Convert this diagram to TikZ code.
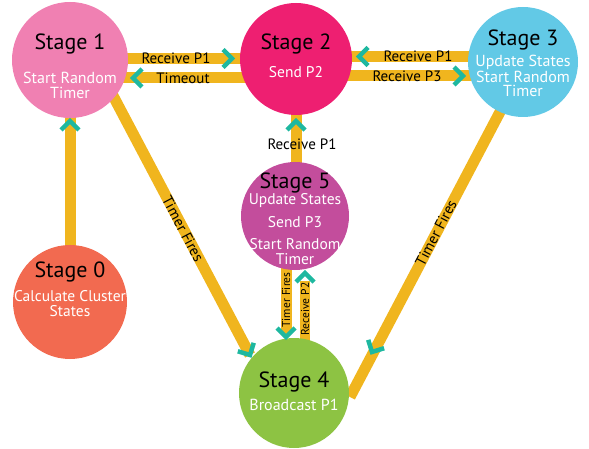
\documentclass[tikz,border=0pt]{standalone}
\usepackage{fontspec}
\setmainfont{PT Sans}
\usetikzlibrary{calc,backgrounds}
\definecolor{cSa}{HTML}{F080B2}
\definecolor{cSb}{HTML}{EE1F71}
\definecolor{cSc}{HTML}{62C9E6}
\definecolor{cSe}{HTML}{C34D9C}
\definecolor{cSo}{HTML}{F26A50}
\definecolor{cSd}{HTML}{8DC343}
\definecolor{barY}{HTML}{F0B51E}
\definecolor{chevT}{HTML}{1EB8A0}
\begin{document}
\begin{tikzpicture}[x=1pt,y=-1pt,
  stagecirc/.style={circle, inner sep=0pt, draw=none},
  bar/.style={draw=barY, line width=11pt},
  chev/.pic={\draw[draw=chevT, line width=4.5pt, miter limit=10] (-9,-9) -- (0,0) -- (-9,9);},
  title/.style={font=\fontsize{22}{22}\selectfont, text=black, inner sep=0pt},
  sub/.style={font=\fontsize{15.5}{15}\selectfont, text=white, align=center, inner sep=0pt},
  lab/.style={font=\fontsize{15}{15}\selectfont, text=black, inner sep=0pt},
  smalllab/.style={font=\fontsize{11.5}{11.5}\selectfont, text=black, inner sep=0pt}]
\useasboundingbox (0,0) rectangle (589,449);

% circles
\node[stagecirc, fill=cSa, minimum size=116pt] (s1) at (70,60) {};
\node[stagecirc, fill=cSb, minimum size=112pt] (s2) at (296,59) {};
\node[stagecirc, fill=cSc, minimum size=110pt] (s3) at (523,62) {};
\node[stagecirc, fill=cSe, minimum size=108pt] (s5) at (295,216) {};
\node[stagecirc, fill=cSo, minimum size=114pt] (s0) at (70,302) {};
\node[stagecirc, fill=cSd, minimum size=110pt] (s4) at (294,393) {};

% chevron tips
\coordinate (t12) at (232,58.5);
\coordinate (t21) at (133,78);
\coordinate (t32) at (359,56.5);
\coordinate (t23) at (463,76);
\coordinate (t52) at (296,121);
\coordinate (t01) at (70,121);
\coordinate (t14) at (250,355);
\coordinate (t34) at (372,352);
\coordinate (t54) at (286,337);
\coordinate (t45) at (305,273);

% bars
\begin{scope}[on background layer]
\draw[bar] ([yshift=1.5pt]s1.center) -- ([yshift=1.5pt]s1.center -| s2.center);
\draw[bar] ([yshift=-18pt]s1.center) -- ([yshift=-18pt]s1.center -| s2.center);
\draw[bar] ([yshift=2.5pt]s2.center) -- ([yshift=2.5pt]s2.center -| s3.center);
\draw[bar] ([yshift=-17pt]s2.center) -- ([yshift=-17pt]s2.center -| s3.center);
\draw[bar] ([xshift=1pt]s5.center) -- ([xshift=1pt]s5.center |- s2.center);
\draw[bar] (s0.center) -- (s1.center);
\draw[bar] ($(s1.center)+(40,30)$) -- (t14);
\draw[bar] ($(s3.center)+(-22,48)$) -- ($(s4.center)+(56,4)$);
\draw[bar] (s5.center -| t54) -- ([yshift=3pt]t54);
\draw[bar, line width=10pt] (s4.center -| t45) -- ([yshift=-8pt]t45);
\end{scope}

% chevrons
\pic at (t12) {chev};
\pic[rotate=180] at (t21) {chev};
\pic[rotate=180] at (t32) {chev};
\pic at (t23) {chev};
\pic[rotate=90] at (t52) {chev};
\pic[rotate=90] at (t01) {chev};
\pic[rotate=-62.1] at (t14) {chev};
\pic[rotate=-117.6] at (t34) {chev};
\pic[rotate=-90] at (t54) {chev};
\pic[rotate=90] at (t45) {chev};

% bar labels
\node[lab] (l1) at (176,58.5) {Receive P1};
\node[lab] (l2) at (183,78) {Timeout};
\node[lab] (l3) at (418,56.5) {Receive P1};
\node[lab] (l4) at (407,76) {Receive P3};
\node[lab] (l5) at (302,144) {Receive P1};
\node[lab, rotate=-62.1] (l6) at (183,229) {Timer Fires};
\node[lab, rotate=62.4] (l7) at (436,233) {Timer Fires};
\node[smalllab, rotate=90] (l8) at (286,300) {Timer Fires};
\node[smalllab, rotate=90] (l9) at (305,309) {Receive P2};

% stage texts
\node[title] (s1t) at (70,44) {Stage 1};
\node[sub, font=\fontsize{16}{15}\selectfont] (s1s) at (70,85.5) {Start Random\\Timer};
\node[title] (s2t) at (296,44) {Stage 2};
\node[sub] (s2s) at (296,72) {Send P2};
\node[title] (s3t) at (523,40) {Stage 3};
\node[sub, font=\fontsize{16}{14}\selectfont] (s3s) at (523,76) {Update States\\Start Random\\Timer};
\node[title] (s5t) at (295,183) {Stage 5};
\node[sub] (s5a) at (295,201) {Update States};
\node[sub] (s5b) at (295,222) {Send P3};
\node[sub] (s5c) at (295,251.5) {Start Random\\Timer};
\node[title] (s0t) at (70,272) {Stage 0};
\node[sub] (s0s) at (70,303.5) {Calculate Cluster\\States};
\node[title] (s4t) at (294,382) {Stage 4};
\node[sub, font=\fontsize{16}{16}\selectfont] (s4s) at (294,405) {Broadcast P1};
\end{tikzpicture}
\end{document}
